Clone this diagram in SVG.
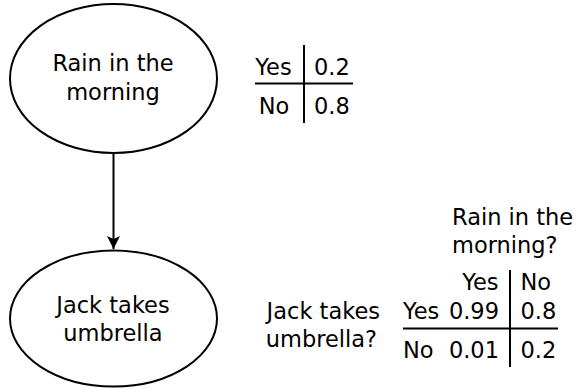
<svg xmlns="http://www.w3.org/2000/svg" width="577" height="388" viewBox="0 0 577 388">
  <style>
    .node { fill: #ffffff; stroke: #000000; stroke-width: 2; }
    .rule { stroke: #000000; stroke-width: 2; fill: none; }
    text { font-family: "DejaVu Sans", "Liberation Sans", sans-serif; font-size: 22.5px; fill: #000000; }
    .mid { text-anchor: middle; }
    .end { text-anchor: end; }
  </style>
  <defs>
    <marker id="arrowhead" viewBox="0 0 14 14" refX="13" refY="7" markerWidth="14" markerHeight="14" markerUnits="userSpaceOnUse" orient="auto">
      <path d="M13,7 L0,0.5 L3,7 L0,13.5 Z" fill="#000000"/>
    </marker>
  </defs>

  <rect width="577" height="388" fill="#ffffff"/>

  <g id="connectors">
    <line class="rule" x1="113.5" y1="153" x2="113.5" y2="249" marker-end="url(#arrowhead)"/>
  </g>

  <g id="rain">
    <ellipse class="node" cx="113.5" cy="78.5" rx="103.5" ry="74.5"/>
    <text class="mid" x="113" y="71">Rain in the</text>
    <text class="mid" x="113" y="100">morning</text>
  </g>

  <g id="umbrella">
    <ellipse class="node" cx="113.5" cy="318.5" rx="103.5" ry="68"/>
    <text class="mid" x="113" y="313">Jack takes</text>
    <text class="mid" x="113" y="341">umbrella</text>
  </g>

  <!-- prior table for rain -->
  <g id="rain-table">
    <text class="mid" x="273.5" y="75">Yes</text>
    <text class="mid" x="274" y="114">No</text>
    <text x="314" y="75">0.2</text>
    <text x="314" y="114">0.8</text>
    <line class="rule" x1="255" y1="83.5" x2="353" y2="83.5"/>
    <line class="rule" x1="304" y1="45" x2="304" y2="123"/>
  </g>

  <!-- conditional table for umbrella -->
  <g id="umbrella-table">
    <text x="452" y="225">Rain in the</text>
    <text x="452" y="253">morning?</text>
    <text class="end" x="498.5" y="290">Yes</text>
    <text x="520.5" y="290">No</text>
    <text class="end" x="380" y="319">Jack takes</text>
    <text class="end" x="377" y="347">umbrella?</text>
    <text x="403" y="319">Yes</text>
    <text x="403" y="358">No</text>
    <text class="end" x="499" y="319">0.99</text>
    <text class="end" x="499" y="358">0.01</text>
    <text x="520.5" y="319">0.8</text>
    <text x="520.5" y="358">0.2</text>
    <line class="rule" x1="403" y1="328.5" x2="558" y2="328.5"/>
    <line class="rule" x1="510" y1="270" x2="510" y2="367"/>
  </g>
</svg>
